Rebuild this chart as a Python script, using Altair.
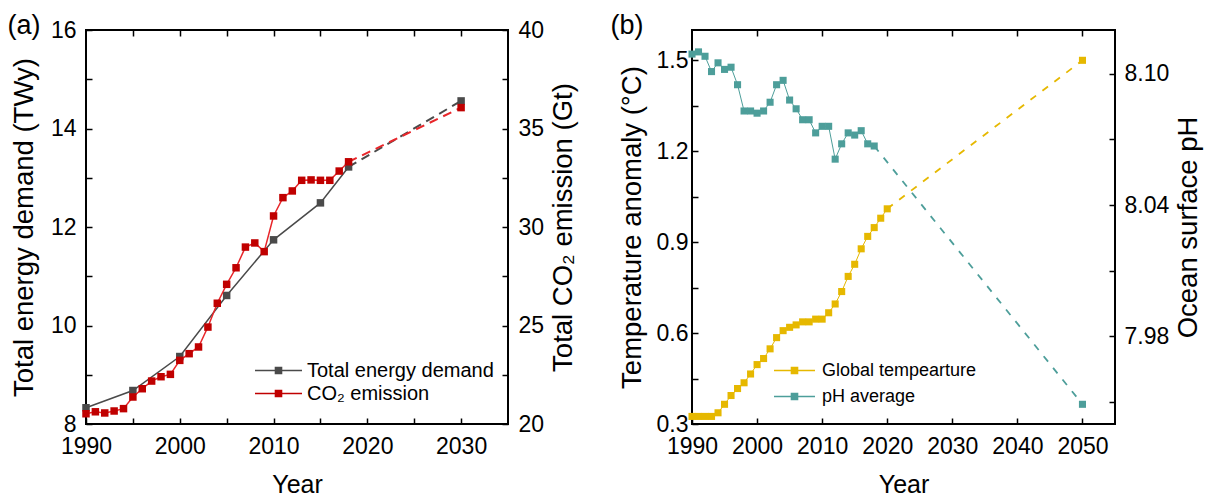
import altair as alt
import pandas as pd

# ---------------- Panel (a): energy demand and CO2 emission ----------------
energy_years = [1990, 1995, 2000, 2005, 2010, 2015, 2018]
energy_twy = [8.33, 8.68, 9.37, 10.61, 11.74, 12.49, 13.22]
energy_proj_years = [2018, 2030]
energy_proj_twy = [13.22, 14.56]

co2_years = list(range(1990, 2019))
co2_gt = [20.52, 20.62, 20.56, 20.66, 20.78, 21.37, 21.79, 22.18, 22.40, 22.52,
          23.23, 23.57, 23.91, 24.92, 26.13, 27.09, 27.93, 28.98, 29.19, 28.75,
          30.56, 31.49, 31.83, 32.37, 32.39, 32.37, 32.37, 32.84, 33.31]
co2_proj_years = [2018, 2030]
co2_proj_gt = [33.31, 36.06]

# ---------------- Panel (b): temperature anomaly and ocean pH ----------------
temp_years = list(range(1990, 2021))
temp_anomaly = [0.325, 0.325, 0.325, 0.325, 0.337, 0.365, 0.394, 0.417, 0.436, 0.465,
                0.496, 0.516, 0.548, 0.585, 0.608, 0.619, 0.627, 0.637, 0.637, 0.646,
                0.646, 0.667, 0.696, 0.737, 0.787, 0.827, 0.878, 0.919, 0.948, 0.979,
                1.010]
temp_proj_years = [2020, 2050]
temp_proj_anomaly = [1.010, 1.500]

ph_years = list(range(1990, 2019))
ph_avg = [8.109, 8.110, 8.108, 8.101, 8.105, 8.102, 8.103, 8.095, 8.083, 8.083,
          8.082, 8.083, 8.087, 8.095, 8.097, 8.088, 8.084, 8.079, 8.079, 8.073,
          8.076, 8.076, 8.061, 8.068, 8.073, 8.072, 8.074, 8.068, 8.067]
ph_proj_years = [2018, 2050]
ph_proj_avg = [8.067, 7.949]

# Tick positions (minor ticks carry blank labels)
xa_ticks = [1990, 1995, 2000, 2005, 2010, 2015, 2020, 2025, 2030]
energy_ticks = [8, 9, 10, 11, 12, 13, 14, 15, 16]
co2_ticks = [20, 22.5, 25, 27.5, 30, 32.5, 35, 37.5, 40]
xb_ticks = [1990, 2000, 2010, 2020, 2030, 2040, 2050]
temp_ticks = [0.3, 0.45, 0.6, 0.75, 0.9, 1.05, 1.2, 1.35, 1.5]
ph_ticks = [7.95, 7.98, 8.01, 8.04, 8.07, 8.10]

FONT = "Liberation Sans"
TICK = 6
Y_TITLE = 27.5
X_TITLE = 25

GRAY, RED_LINE, RED = "#4a4a4a", "#e8262a", "#c00000"
GOLD, TEAL = "#e6b800", "#4d9e9a"


def axis(orient, values, **kw):
    # inward ticks: the axis is pulled inside the frame by the tick length
    return alt.Axis(orient=orient, values=values, offset=-TICK, tickSize=TICK,
                    domain=False, grid=False, labelFlush=False, **kw)


def panel_tag(orient_values, text, dx):
    # top axis: mirrored ticks only, carrying the panel letter as its title
    return axis("top", orient_values, labels=False, title=text, titleX=dx,
                titleY=-3, titleAlign="left", titleAngle=0,
                titleBaseline="alphabetic", titleFontSize=27)


def legend(x, y, half_width, font_size, label_offset):
    # line with a square marker in the middle
    t = 0.75 / half_width
    s = 3.8 / half_width
    path = (f"M-1,-{t:.4f}H1V{t:.4f}H-1Z "
            f"M-{s:.4f},-{s:.4f}H{s:.4f}V{s:.4f}H-{s:.4f}Z")
    return alt.Legend(orient="none", legendX=x, legendY=y, title=None,
                      symbolType=path, symbolSize=(2 * half_width) ** 2,
                      symbolStrokeWidth=0, symbolOffset=0, padding=0,
                      labelFontSize=font_size, labelOffset=label_offset,
                      labelLimit=400, labelFont=FONT, labelColor="black")


def series(years, values, proj_years, proj_values, name, line_color, mark_color,
           x_scale, x_axis, y_scale, y_axis, y_title, dash, line_w, dash_w,
           point_size, leg):
    hist = pd.DataFrame({"year": years, "value": values})
    proj = pd.DataFrame({"year": proj_years, "value": proj_values})
    pts = pd.concat([hist, proj.iloc[1:]], ignore_index=True)
    pts["series"] = name
    x = alt.X("year:Q", scale=x_scale, axis=x_axis)
    y = alt.Y("value:Q", scale=y_scale, axis=y_axis, title=y_title)
    solid = alt.Chart(hist).mark_line(color=line_color, strokeWidth=line_w).encode(x=x, y=y)
    dashed = alt.Chart(proj).mark_line(color=line_color, strokeWidth=dash_w,
                                       strokeDash=dash).encode(x=x, y=y)
    marks = alt.Chart(pts).mark_point(shape="square", filled=True, opacity=1,
                                      size=point_size, strokeWidth=0).encode(
        x=x, y=y,
        color=alt.Color("series:N", scale=alt.Scale(domain=[name], range=[mark_color]),
                        legend=leg))
    return alt.layer(solid, dashed, marks)


# ---------------- panel (a) ----------------
xa = alt.Scale(domain=[1990, 2035], nice=False, zero=False)
energy = series(
    energy_years, energy_twy, energy_proj_years, energy_proj_twy,
    "Total energy demand", GRAY, GRAY, xa,
    axis("bottom", xa_ticks, format="d", title="Year", labelPadding=11,
         titlePadding=14, titleFontSize=X_TITLE,
         labelExpr="datum.value % 10 == 0 ? datum.label : ''"),
    alt.Scale(domain=[8, 16], nice=False, zero=False),
    axis("left", energy_ticks, format="d", labelPadding=10, titlePadding=12,
         labelExpr="datum.value % 2 == 0 ? datum.label : ''"),
    "Total energy demand (TWy)", [9, 6], 1.5, 2, 56,
    legend(169, 317, 23.5, 20, 5))

co2 = series(
    co2_years, co2_gt, co2_proj_years, co2_proj_gt,
    "CO\u2082 emission", RED_LINE, RED, xa,
    panel_tag(xa_ticks[1:], "(a)", -79),
    alt.Scale(domain=[20, 40], nice=False, zero=False),
    axis("right", co2_ticks, format="d", labelPadding=10, titlePadding=6,
         titleAngle=270, titleBaseline="top",
         labelExpr="datum.value % 5 == 0 ? datum.label : ''"),
    "Total CO\u2082 emission (Gt)", [9, 6], 1.5, 2, 56,
    legend(169, 340, 23.5, 20, 5))

panel_a = alt.layer(energy, co2).resolve_scale(
    y="independent", color="independent").resolve_axis(x="independent").properties(
    width=422, height=394)

# ---------------- panel (b) ----------------
xb = alt.Scale(domain=[1990, 2055], nice=False, zero=False)
temp = series(
    temp_years, temp_anomaly, temp_proj_years, temp_proj_anomaly,
    "Global tempearture", GOLD, GOLD, xb,
    axis("bottom", xb_ticks, format="d", title="Year", labelPadding=11,
         titlePadding=14, titleFontSize=X_TITLE),
    alt.Scale(domain=[0.3, 1.6], nice=False, zero=False),
    axis("left", temp_ticks, labelPadding=4, titlePadding=10,
         labelExpr="abs(datum.value / 0.3 - round(datum.value / 0.3)) < 0.001 ? format(datum.value, '.1f') : ''"),
    "Temperature anomaly (\u00b0C)", [7, 8], 1, 1.8, 50,
    legend(82, 320, 20.5, 18, 7))

ph = series(
    ph_years, ph_avg, ph_proj_years, ph_proj_avg,
    "pH average", TEAL, TEAL, xb,
    panel_tag(xb_ticks[1:], "(b)", -82),
    alt.Scale(domain=[7.94, 8.12], nice=False, zero=False),
    axis("right", ph_ticks, labelPadding=9, titlePadding=6,
         titleAngle=270, titleBaseline="top",
         labelExpr="abs((datum.value - 7.98) / 0.06 - round((datum.value - 7.98) / 0.06)) < 0.001 ? format(datum.value, '.2f') : ''"),
    "Ocean surface pH", [7, 8], 1, 1.8, 50,
    legend(82, 346, 20.5, 18, 7))

panel_b = alt.layer(temp, ph).resolve_scale(
    y="independent", color="independent").resolve_axis(x="independent").properties(
    width=423, height=394)

chart = alt.hconcat(panel_a, panel_b, spacing=30).properties(
    padding={"left": 6, "top": 10, "right": 0, "bottom": 0}
).configure(font=FONT).configure_view(
    stroke="black", strokeWidth=2
).configure_axis(
    labelFontSize=23, titleFontSize=Y_TITLE, titleFontWeight="normal",
    labelColor="black", titleColor="black", tickColor="black", tickWidth=1.5,
    labelFont=FONT, titleFont=FONT
)

chart.save("out.html", embed_options={"renderer": "svg", "actions": False})
